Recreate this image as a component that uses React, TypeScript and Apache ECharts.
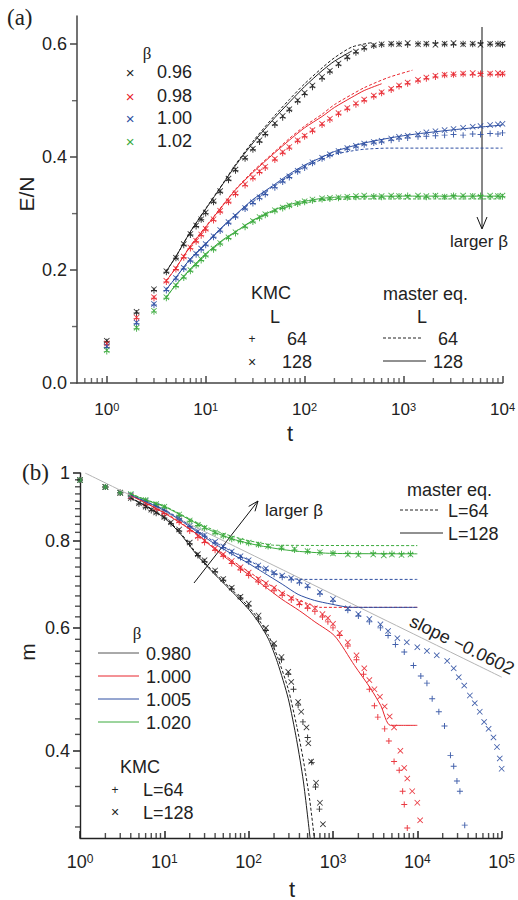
import React, { useEffect, useRef } from 'react';
import * as echarts from 'echarts';

// ---------- panel (a): E/N vs t ----------
const tA = [1, 2, 3, 4, 5, 6, 7, 8, 9, 10, 12, 14, 17, 20, 25, 30, 35, 40, 50, 60, 70, 85, 100, 120, 150, 180, 220, 270, 330, 400, 500, 600, 750, 900, 1100, 1400, 1700, 2100, 2600, 3200, 4000, 5000, 6000, 7500, 9000, 10000];

const eA096_128 = [0.075,0.126,0.166,0.198,0.222,0.246,0.264,0.279,0.290,0.302,0.322,0.340,0.362,0.378,0.399,0.415,0.430,0.442,0.460,0.473,0.485,0.501,0.514,0.527,0.542,0.553,0.566,0.578,0.587,0.594,0.598,0.600,0.601,0.600,0.602,0.600,0.601,0.599,0.601,0.602,0.600,0.601,0.599,0.601,0.600,0.601];
const eA096_64 = [0.073,0.124,0.164,0.196,0.221,0.244,0.262,0.277,0.289,0.300,0.320,0.338,0.359,0.376,0.397,0.413,0.427,0.440,0.457,0.470,0.483,0.498,0.511,0.524,0.539,0.551,0.563,0.575,0.585,0.592,0.597,0.599,0.600,0.601,0.599,0.601,0.600,0.602,0.600,0.599,0.601,0.600,0.602,0.600,0.601,0.599];
const eA098_128 = [0.070,0.116,0.152,0.181,0.203,0.224,0.240,0.252,0.263,0.273,0.290,0.305,0.322,0.336,0.352,0.364,0.375,0.383,0.397,0.409,0.418,0.430,0.438,0.448,0.459,0.468,0.478,0.487,0.495,0.502,0.509,0.515,0.521,0.527,0.532,0.537,0.541,0.544,0.546,0.547,0.548,0.549,0.547,0.548,0.549,0.548];
const eA098_64 = [0.068,0.114,0.150,0.179,0.201,0.222,0.238,0.250,0.261,0.271,0.288,0.303,0.320,0.334,0.350,0.362,0.373,0.381,0.395,0.407,0.416,0.428,0.436,0.446,0.457,0.466,0.476,0.485,0.493,0.500,0.507,0.513,0.519,0.525,0.530,0.535,0.539,0.542,0.545,0.546,0.547,0.546,0.548,0.547,0.546,0.547];
const eA100_128 = [0.065,0.107,0.140,0.166,0.186,0.204,0.218,0.229,0.238,0.246,0.260,0.271,0.285,0.296,0.310,0.320,0.329,0.336,0.348,0.358,0.366,0.376,0.383,0.391,0.399,0.405,0.411,0.416,0.420,0.424,0.427,0.429,0.433,0.436,0.438,0.441,0.444,0.446,0.448,0.450,0.452,0.454,0.455,0.457,0.458,0.459];
const eA100_64 = [0.063,0.105,0.138,0.164,0.184,0.202,0.216,0.227,0.236,0.244,0.258,0.269,0.283,0.294,0.308,0.318,0.327,0.334,0.346,0.356,0.364,0.374,0.381,0.389,0.397,0.403,0.409,0.414,0.418,0.422,0.425,0.427,0.430,0.432,0.434,0.436,0.437,0.438,0.439,0.440,0.439,0.441,0.440,0.442,0.441,0.443];
const eA102_128 = [0.058,0.098,0.128,0.152,0.173,0.188,0.200,0.210,0.219,0.227,0.238,0.248,0.258,0.267,0.278,0.287,0.294,0.299,0.306,0.311,0.315,0.319,0.322,0.325,0.327,0.328,0.329,0.330,0.331,0.332,0.330,0.331,0.332,0.331,0.330,0.332,0.331,0.332,0.330,0.331,0.332,0.331,0.330,0.332,0.331,0.332];
const eA102_64 = [0.056,0.096,0.126,0.150,0.171,0.186,0.198,0.208,0.217,0.225,0.236,0.246,0.256,0.265,0.276,0.285,0.292,0.297,0.304,0.309,0.313,0.317,0.320,0.323,0.325,0.326,0.327,0.328,0.329,0.330,0.331,0.329,0.330,0.331,0.332,0.330,0.329,0.331,0.330,0.332,0.330,0.331,0.332,0.330,0.331,0.330];

// master equation curves (a): [t, E]
const mA096_128 = [[4,0.198],[5,0.224],[7,0.268],[10,0.308],[15,0.353],[20,0.385],[30,0.425],[50,0.47],[70,0.497],[100,0.525],[150,0.553],[200,0.57],[300,0.588]];
const mA096_64 = [[4,0.198],[5,0.224],[7,0.268],[10,0.309],[15,0.354],[20,0.387],[30,0.428],[50,0.474],[70,0.502],[100,0.53],[150,0.558],[200,0.576],[300,0.595],[480,0.603]];
const mA098_128 = [[4,0.181],[5,0.204],[7,0.242],[10,0.276],[15,0.315],[20,0.342],[30,0.373],[50,0.408],[70,0.43],[100,0.452],[150,0.472],[200,0.488],[300,0.506],[400,0.518],[600,0.53]];
const mA098_64 = [[4,0.181],[5,0.204],[7,0.243],[10,0.277],[15,0.316],[20,0.343],[30,0.375],[50,0.41],[70,0.433],[100,0.455],[150,0.476],[200,0.493],[300,0.511],[400,0.523],[700,0.541],[1230,0.554]];
const mA100_128 = [[4,0.166],[5,0.187],[7,0.22],[10,0.247],[15,0.278],[20,0.298],[30,0.325],[50,0.352],[70,0.37],[100,0.386],[150,0.4],[200,0.41],[400,0.425],[1000,0.438],[3000,0.448],[10000,0.457]];
const mA100_64 = [[4,0.166],[5,0.187],[7,0.22],[10,0.246],[15,0.277],[20,0.297],[30,0.324],[50,0.35],[70,0.367],[100,0.383],[150,0.396],[200,0.405],[300,0.411],[400,0.414],[700,0.416],[10000,0.416]];
const mA102_128 = [[4,0.152],[5,0.174],[7,0.202],[10,0.229],[15,0.254],[20,0.268],[30,0.288],[50,0.307],[70,0.316],[100,0.322],[150,0.327],[200,0.329],[500,0.331],[10000,0.331]];
const mA102_64 = [[4,0.152],[5,0.174],[7,0.201],[10,0.228],[15,0.253],[20,0.267],[30,0.287],[50,0.305],[70,0.313],[100,0.319],[150,0.323],[200,0.325],[400,0.326],[10000,0.326]];

// ---------- panel (b): m vs t ----------
const kB098_128 = [[1,0.977],[2,0.955],[3,0.937],[4,0.921],[5,0.905],[6,0.895],[7,0.886],[8,0.878],[10,0.865],[12,0.85],[15,0.83],[20,0.795],[25,0.765],[30,0.75],[40,0.725],[50,0.705],[63,0.685],[80,0.665],[100,0.65],[131,0.625],[160,0.6],[200,0.57],[245,0.545],[295,0.519],[320,0.502],[386,0.47],[420,0.455],[485,0.432],[510,0.41],[550,0.386],[630,0.36],[700,0.337],[760,0.314]];
const kB098_64 = [[1,0.977],[2,0.955],[3,0.937],[4,0.919],[5,0.903],[6,0.893],[7,0.884],[8,0.876],[10,0.862],[12,0.846],[15,0.826],[20,0.792],[25,0.762],[30,0.746],[40,0.722],[50,0.702],[63,0.682],[80,0.662],[100,0.645],[131,0.618],[160,0.595],[200,0.565],[245,0.54],[295,0.515],[340,0.49],[386,0.465],[440,0.44],[500,0.418],[560,0.385],[620,0.355],[690,0.33]];
const kB100_128 = [[1,0.977],[2,0.955],[3,0.937],[4,0.927],[6,0.905],[8,0.89],[10,0.878],[15,0.855],[20,0.83],[25,0.812],[30,0.8],[40,0.78],[50,0.765],[63,0.748],[80,0.733],[100,0.72],[130,0.705],[160,0.695],[200,0.685],[250,0.672],[320,0.662],[400,0.652],[500,0.645],[610,0.64],[750,0.628],[870,0.62],[1000,0.608],[1200,0.59],[1500,0.572],[1900,0.548],[2350,0.525],[2700,0.505],[3100,0.49],[3600,0.478],[4100,0.463],[4700,0.448],[5300,0.432],[6300,0.4],[7000,0.378],[7600,0.365],[8700,0.35],[10000,0.337],[10800,0.318]];
const kB100_64 = [[1,0.977],[2,0.955],[3,0.937],[4,0.925],[6,0.903],[8,0.888],[10,0.875],[15,0.85],[20,0.826],[25,0.808],[30,0.795],[40,0.775],[50,0.76],[63,0.742],[80,0.726],[100,0.713],[130,0.698],[160,0.688],[200,0.678],[250,0.668],[320,0.658],[400,0.648],[500,0.64],[610,0.633],[750,0.622],[870,0.612],[1000,0.6],[1200,0.585],[1500,0.565],[1900,0.54],[2300,0.515],[2700,0.49],[3100,0.464],[3400,0.447],[4100,0.43],[4600,0.413],[5300,0.386],[6100,0.375],[6700,0.35],[7000,0.335],[7600,0.31]];
const kB1005_128 = [[1,0.977],[2,0.955],[3,0.937],[4,0.93],[6,0.912],[8,0.898],[10,0.885],[15,0.863],[20,0.84],[25,0.825],[30,0.815],[40,0.797],[50,0.785],[63,0.772],[80,0.76],[100,0.75],[130,0.737],[160,0.73],[200,0.72],[250,0.713],[320,0.707],[400,0.7],[500,0.69],[700,0.675],[1000,0.66],[1500,0.64],[2000,0.628],[2700,0.618],[3650,0.607],[4500,0.594],[5800,0.58],[7500,0.572],[10000,0.563],[13000,0.556],[17000,0.548],[22600,0.538],[27000,0.525],[31000,0.51],[36000,0.496],[42000,0.48],[48000,0.468],[55000,0.455],[62000,0.44],[70000,0.43],[80000,0.418],[88000,0.405],[95000,0.39],[100000,0.377]];
const kB1005_64 = [[1,0.977],[2,0.955],[3,0.937],[4,0.928],[6,0.91],[8,0.896],[10,0.883],[15,0.86],[20,0.838],[25,0.822],[30,0.812],[40,0.794],[50,0.782],[63,0.769],[80,0.757],[100,0.746],[130,0.734],[160,0.726],[200,0.716],[250,0.709],[320,0.703],[400,0.696],[500,0.686],[700,0.671],[1000,0.655],[1500,0.636],[2000,0.624],[2700,0.612],[3650,0.6],[4500,0.585],[5500,0.568],[7000,0.554],[9000,0.53],[11000,0.512],[13000,0.5],[15000,0.475],[18000,0.455],[21000,0.434],[24700,0.394],[27000,0.38],[29500,0.362],[32000,0.35],[36500,0.313]];
const kB102_128 = [[1,0.977],[2,0.955],[3,0.937],[4,0.933],[6,0.915],[8,0.903],[10,0.895],[15,0.872],[20,0.855],[25,0.843],[30,0.835],[40,0.822],[50,0.814],[63,0.806],[80,0.8],[100,0.795],[131,0.79],[170,0.786],[245,0.782],[350,0.778],[500,0.773],[700,0.77],[1000,0.767],[1500,0.764],[2000,0.763],[3000,0.764],[4000,0.762],[5000,0.764],[6500,0.763],[8300,0.764]];
const kB102_64 = [[1,0.977],[2,0.955],[3,0.937],[4,0.931],[6,0.914],[8,0.901],[10,0.893],[15,0.87],[20,0.853],[25,0.841],[30,0.833],[40,0.82],[50,0.812],[63,0.804],[80,0.798],[100,0.793],[131,0.789],[170,0.785],[245,0.78],[350,0.776],[500,0.772],[700,0.769],[1000,0.768],[1500,0.767],[2000,0.766],[3000,0.768],[4000,0.766],[5000,0.767],[6500,0.766],[8300,0.767]];

const mB098_128 = [[4,0.92],[6,0.897],[10,0.862],[15,0.822],[25,0.76],[40,0.715],[63,0.677],[100,0.638],[130,0.612],[172,0.578],[220,0.535],[295,0.475],[370,0.415],[445,0.362],[535,0.3]];
const mB098_64 = [[4,0.921],[6,0.898],[10,0.864],[15,0.825],[25,0.763],[40,0.718],[63,0.681],[100,0.643],[130,0.618],[172,0.585],[220,0.545],[295,0.49],[370,0.435],[445,0.388],[530,0.34],[600,0.3]];
const mB100_128 = [[4,0.928],[6,0.906],[10,0.876],[15,0.85],[25,0.815],[40,0.777],[63,0.745],[100,0.715],[150,0.69],[245,0.66],[400,0.635],[610,0.612],[1050,0.584],[1800,0.53],[2800,0.491],[3700,0.464],[4800,0.435],[10000,0.435]];
const mB100_64 = [[4,0.929],[6,0.907],[10,0.878],[15,0.852],[25,0.816],[40,0.78],[63,0.75],[100,0.722],[150,0.7],[220,0.681],[300,0.667],[500,0.65],[700,0.642],[10000,0.642]];
const mB1005_128 = [[4,0.93],[6,0.91],[10,0.884],[15,0.858],[25,0.822],[40,0.791],[63,0.766],[100,0.742],[150,0.72],[250,0.693],[386,0.67],[600,0.657],[950,0.649],[1630,0.642],[10000,0.642]];
const mB1005_64 = [[4,0.931],[6,0.911],[10,0.886],[15,0.861],[25,0.825],[40,0.796],[63,0.772],[100,0.75],[150,0.73],[220,0.716],[300,0.708],[400,0.704],[10000,0.704]];
const mB102_128 = [[4,0.933],[6,0.915],[10,0.895],[15,0.873],[25,0.845],[40,0.822],[63,0.805],[100,0.793],[150,0.785],[250,0.777],[400,0.772],[1000,0.767],[10000,0.766]];
const mB102_64 = [[4,0.934],[6,0.916],[10,0.897],[15,0.875],[25,0.848],[40,0.827],[63,0.812],[100,0.8],[130,0.795],[200,0.788],[10000,0.787]];
const slopeLine = [[1.15, 1.0], [100000, 0.51]];

// tick labels / tick values
const betaA = ['0.96', '0.98', '1.00', '1.02'];
const betaB = ['0.980', '1.000', '1.005', '1.020'];
const xMajorA = [1, 10, 100, 1000, 10000];
const xMajorB = [1, 10, 100, 1000, 10000, 100000];
const yMajorA = [0, 0.2, 0.4, 0.6];
const yMinorA = [0.1, 0.3, 0.5];
const yMajorB = [0.4, 0.6, 0.8, 1];

const FONT = "'Liberation Sans', Arial, Helvetica, sans-serif";
const SERIF = "'Liberation Serif', 'Times New Roman', serif";
const COL = ['#1e1e1e', '#e8252d', '#2e4fa2', '#3aaa3c'];
const PLUS = 'path://M4.2,0H5.8V4.2H10V5.8H5.8V10H4.2V5.8H0V4.2H4.2Z';
const CROSS = 'path://M1,0L5,4L9,0L10,1L6,5L10,9L9,10L5,6L1,10L0,9L4,5L0,1Z';

function minorLog(decades: number[]) {
  const out: number[] = [];
  decades.forEach((d) => { for (let k = 2; k <= 9; k++) out.push(k * d); });
  return out;
}
function minorLinear(majors: number[], n: number, low: number) {
  const out: number[] = [];
  const step = (majors[1] - majors[0]) / n;
  for (let i = 0; i < majors.length - 1; i++) for (let k = 1; k < n; k++) out.push(majors[i] + k * step);
  for (let v = majors[0] - step; v > low - 1e-9; v -= step) out.push(v);
  return out;
}

const supFmt = (v: number) => `{b|10}{s|${Math.round(Math.log10(v))}}`;

function App() {
  const ref = useRef<HTMLDivElement>(null);
  useEffect(() => {
    if (!ref.current) return;
    const chart = echarts.init(ref.current, null, { renderer: 'svg' });
    const axColA = '#444';
    const axColB = '#222';
    const richA = { b: { fontSize: 17, fontFamily: FONT, color: '#222' }, s: { fontSize: 11, fontFamily: FONT, color: '#222', verticalAlign: 'top' } };

    const kmc = (data: any[], color: string, sym: string, xi: number, yi: number) => ({
      type: 'scatter', xAxisIndex: xi, yAxisIndex: yi, symbol: sym, symbolSize: 6,
      itemStyle: { color, opacity: 0.9 }, data, silent: true, z: 2,
    });
    const master = (data: any[], color: string, dashed: boolean, xi: number, yi: number, w = 1) => ({
      type: 'line', xAxisIndex: xi, yAxisIndex: yi, data, showSymbol: false, symbol: 'none',
      smooth: 0.25,
      lineStyle: { color, width: w, type: dashed ? [3, 2] : 'solid' }, silent: true, z: 3,
    });
    // minor ticks: thin rect symbols placed through the axes' own scales
    const tickMarks = (pairs: number[][], gi: number, size: number[], offset: number[], color: string) => ({
      type: 'scatter', xAxisIndex: gi, yAxisIndex: gi, data: pairs, symbol: 'rect',
      symbolSize: size, symbolOffset: offset, itemStyle: { color }, silent: true, clip: false, z: 6,
    });

    const zipA = (e: number[]) => tA.map((t, i) => [t, e[i]]);
    const kA128 = [eA096_128, eA098_128, eA100_128, eA102_128];
    const kA64 = [eA096_64, eA098_64, eA100_64, eA102_64];
    const mA128 = [mA096_128, mA098_128, mA100_128, mA102_128];
    const mA64 = [mA096_64, mA098_64, mA100_64, mA102_64];
    const kBx = [kB098_128, kB100_128, kB1005_128, kB102_128];
    const kBp = [kB098_64, kB100_64, kB1005_64, kB102_64];
    const mB128 = [mB098_128, mB100_128, mB1005_128, mB102_128];
    const mB64 = [mB098_64, mB100_64, mB1005_64, mB102_64];

    const series: any[] = [];
    for (let i = 0; i < 4; i++) {
      series.push(kmc(zipA(kA64[i]), COL[i], PLUS, 0, 0));
      series.push(kmc(zipA(kA128[i]), COL[i], CROSS, 0, 0));
    }
    for (let i = 0; i < 4; i++) {
      series.push(master(mA128[i], COL[i], false, 0, 0));
      series.push(master(mA64[i], COL[i], true, 0, 0));
    }
    series.push(master(slopeLine, '#b4b4b4', false, 1, 1));
    for (let i = 0; i < 4; i++) {
      series.push(kmc(kBp[i], COL[i], PLUS, 1, 1));
      series.push(kmc(kBx[i], COL[i], CROSS, 1, 1));
    }
    for (let i = 0; i < 4; i++) {
      series.push(master(mB128[i], COL[i], false, 1, 1));
      series.push(master(mB64[i], COL[i], true, 1, 1));
    }
    series.push(tickMarks([0.6, 0.7, 0.8, 0.9, ...minorLog([1, 10, 100, 1000])].map((v) => [v, 0]), 0, [1.4, 5], [0, -2.5], axColA));
    series.push(tickMarks(yMinorA.map((v) => [0.5, v]), 0, [5, 1.4], [-2.5, 0], axColA));
    series.push(tickMarks(minorLog([1, 10, 100, 1000, 10000]).map((v) => [v, 0.3]), 1, [1.4, 5], [0, -2.5], axColB));
    series.push(tickMarks(minorLinear(yMajorB, 9, 0.3).map((v) => [1, v]), 1, [5, 1.4], [-2.5, 0], axColB));

    const txt = (text: string, x: number, y: number, o: any = {}) => ({
      type: 'text', x, y, rotation: o.rotation || 0, silent: true,
      style: { text, fontSize: o.size || 17, fontFamily: o.family || FONT, fill: o.color || '#222', align: o.align || 'left', verticalAlign: 'middle' },
    });
    const ln = (x1: number, y1: number, x2: number, y2: number, color: string, dashed = false, w = 1) => ({
      type: 'line', silent: true, shape: { x1, y1, x2, y2 }, style: { stroke: color, lineWidth: w, lineDash: dashed ? [3, 2] : null },
    });

    const graphic: any[] = [
      txt('(a)', 7, 17, { family: SERIF, size: 23 }),
      txt('(b)', 22, 472, { family: SERIF, size: 23 }),
      txt('E/N', 26, 194, { size: 21, rotation: Math.PI / 2, align: 'center' }),
      txt('t', 290, 433, { size: 22, align: 'center' }),
      txt('m', 27, 652, { size: 21, rotation: Math.PI / 2, align: 'center' }),
      txt('t', 292, 889, { size: 22, align: 'center' }),
      // legend (a)
      txt('β', 147, 53, { family: SERIF, size: 17, align: 'center' }),
      ...betaA.map((b, i) => txt('×', 130, [72, 96, 118, 141][i], { size: 15, color: COL[i], align: 'center' })),
      ...betaA.map((b, i) => txt(b, 157, [72, 96, 118, 141][i], { size: 18 })),
      txt('KMC', 251, 293, { size: 18 }),
      txt('L', 275, 317, { size: 18, align: 'center' }),
      txt('+', 252, 339, { size: 12, align: 'center' }),
      txt('64', 287, 339, { size: 18 }),
      txt('×', 252, 362, { size: 14, align: 'center' }),
      txt('128', 282, 362, { size: 18 }),
      txt('master eq.', 383, 294, { size: 18 }),
      txt('L', 422, 317, { size: 18, align: 'center' }),
      ln(383, 338, 423, 338, '#222', true),
      txt('64', 438, 339, { size: 18 }),
      ln(383, 361, 426, 361, '#222'),
      txt('128', 433, 362, { size: 18 }),
      ln(482, 27, 482, 228, '#111'),
      { type: 'polyline', silent: true, shape: { points: [[477, 217], [482, 229], [487, 217]] }, style: { stroke: '#111', lineWidth: 1, fill: null } },
      txt('larger β', 450, 241, { size: 17 }),
      // legend (b)
      txt('β', 137, 633, { family: SERIF, size: 17, align: 'center' }),
      ...betaB.map((b, i) => ln(98, [653, 676, 699, 722][i], 139, [653, 676, 699, 722][i], i === 0 ? '#555' : COL[i])),
      ...betaB.map((b, i) => txt(b, 146, [654, 677, 700, 723][i], { size: 18 })),
      txt('KMC', 120, 767, { size: 18 }),
      txt('+', 115, 790, { size: 12, align: 'center' }),
      txt('L=64', 143, 790, { size: 18 }),
      txt('×', 115, 812, { size: 14, align: 'center' }),
      txt('L=128', 143, 813, { size: 18 }),
      txt('master eq.', 407, 490, { size: 18 }),
      ln(400, 510, 440, 510, '#222', true),
      txt('L=64', 448, 511, { size: 18 }),
      ln(400, 533, 443, 533, '#222'),
      txt('L=128', 448, 534, { size: 18 }),
      ln(194, 583, 258, 501, '#111'),
      { type: 'polyline', silent: true, shape: { points: [[248.7, 506.4], [258, 501], [255, 511.3]] }, style: { stroke: '#111', lineWidth: 1, fill: null } },
      txt('larger β', 265, 510, { size: 17 }),
      txt('slope −0.0602', 411, 620, { size: 18, rotation: -0.454 }),
    ];

    const option: any = {
      animation: false,
      grid: [
        { left: 77, top: 16, width: 427, height: 367 },
        { left: 80, top: 473, width: 425, height: 365 },
      ],
      xAxis: [
        { gridIndex: 0, type: 'log', min: 0.5, max: 10000, axisLine: { lineStyle: { color: axColA, width: 1.5 } },
          axisTick: { show: true, inside: true, length: 7, customValues: xMajorA, lineStyle: { color: axColA, width: 1.5 } },
          axisLabel: { customValues: xMajorA, formatter: supFmt, rich: richA, margin: 18 }, splitLine: { show: false } },
        { gridIndex: 1, type: 'log', min: 1, max: 100000, axisLine: { lineStyle: { color: axColB, width: 1.4 } },
          axisTick: { show: true, inside: true, length: 7, customValues: xMajorB, lineStyle: { color: axColB, width: 1.5 } },
          axisLabel: { customValues: xMajorB, formatter: supFmt, rich: { b: { ...richA.b, fontSize: 18 }, s: { ...richA.s, fontSize: 12 } }, margin: 15 }, splitLine: { show: false } },
      ],
      yAxis: [
        { gridIndex: 0, type: 'value', min: 0, max: 0.65, axisLine: { show: true, lineStyle: { color: axColA, width: 1.5 } },
          axisTick: { show: true, length: 7, customValues: yMajorA, lineStyle: { color: axColA, width: 1.5 } },
          axisLabel: { customValues: yMajorA, formatter: (v: number) => v.toFixed(1), fontSize: 18, fontFamily: FONT, color: '#222', margin: 10 },
          splitLine: { show: false } },
        { gridIndex: 1, type: 'log', min: 0.3, max: 1, axisLine: { show: true, lineStyle: { color: axColB, width: 1.4 } },
          axisTick: { show: true, length: 7, customValues: yMajorB, lineStyle: { color: axColB, width: 1.5 } },
          axisLabel: { customValues: yMajorB, formatter: (v: number) => (v > 0.999 ? '1' : v.toFixed(1)), fontSize: 18, fontFamily: FONT, color: '#222', margin: 10 },
          splitLine: { show: false } },
      ],
      series,
      graphic,
    };
    chart.setOption(option);
    return () => chart.dispose();
  }, []);
  return <div ref={ref} style={{ position: 'absolute', left: 0, top: 0, width: 518, height: 900, background: '#fff' }} />;
}

export default App;
